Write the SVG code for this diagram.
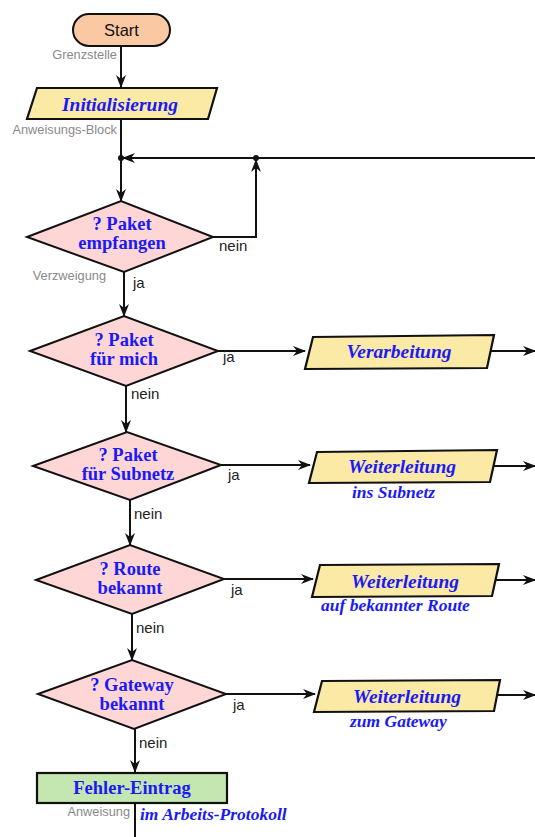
<svg xmlns="http://www.w3.org/2000/svg" width="535" height="837" viewBox="0 0 535 837">
  <style>
    .ln { fill: none; stroke: #111; stroke-width: 2; }
    .arr { fill: none; stroke: #111; stroke-width: 2; marker-end: url(#ah); }
    .dia { fill: #ffd6d6; stroke: #111; stroke-width: 2; }
    .par { fill: #fbe9a6; stroke: #111; stroke-width: 2.2; }
    .q { font-family: "Liberation Serif", "Times New Roman", serif; font-weight: bold; font-size: 18.5px; fill: #1a1af5; text-anchor: middle; }
    .qi { font-family: "Liberation Serif", "Times New Roman", serif; font-weight: bold; font-style: italic; font-size: 19.5px; fill: #1a1af5; text-anchor: middle; }
    .sub { font-family: "Liberation Serif", "Times New Roman", serif; font-weight: bold; font-style: italic; font-size: 17.5px; fill: #1a1af5; }
    .lbl { font-family: "Liberation Sans", Arial, sans-serif; font-size: 15px; fill: #222; }
    .gray { font-family: "Liberation Sans", Arial, sans-serif; font-size: 12.8px; fill: #8a8a8a; }
  </style>
  <defs>
    <marker id="ah" viewBox="0 0 13 10" refX="12" refY="5" markerWidth="13" markerHeight="10" markerUnits="userSpaceOnUse" orient="auto">
      <path d="M0,0 L13,5 L0,10 L4,5 z" fill="#111"/>
    </marker>
  </defs>

  <!-- connectors and their branch labels -->
  <g id="connectors">
    <path class="arr" d="M121,46 V87"/>
    <path class="ln" d="M121,119 V158"/>
    <path class="arr" d="M535,158 H123"/>
    <path class="arr" d="M121,158 V201"/>
    <path class="arr" d="M213,237 H256 V160"/>
    <circle cx="121" cy="158" r="3" fill="#111"/>
    <circle cx="256" cy="158" r="3" fill="#111"/>
    <path class="arr" d="M124,272 V316"/>
    <path class="arr" d="M218,351 H305"/>
    <path class="arr" d="M487,351 H535"/>
    <path class="arr" d="M126,386 V432"/>
    <path class="arr" d="M221,465 H310"/>
    <path class="arr" d="M490,466 H535"/>
    <path class="arr" d="M130,500 V545"/>
    <path class="arr" d="M224,579 H313"/>
    <path class="arr" d="M492,580 H535"/>
    <path class="arr" d="M132,614 V660"/>
    <path class="arr" d="M226,694 H315"/>
    <path class="arr" d="M494,695 H535"/>
    <path class="arr" d="M135,729 V772"/>
    <path class="ln" d="M135,803 V837"/>

    <text class="lbl" x="219" y="251">nein</text>
    <text class="lbl" x="133" y="288">ja</text>
    <text class="lbl" x="223" y="362">ja</text>
    <text class="lbl" x="131" y="399">nein</text>
    <text class="lbl" x="228" y="480">ja</text>
    <text class="lbl" x="134" y="519">nein</text>
    <text class="lbl" x="231" y="595">ja</text>
    <text class="lbl" x="136" y="633">nein</text>
    <text class="lbl" x="233" y="710">ja</text>
    <text class="lbl" x="139" y="748">nein</text>
  </g>

  <g id="start">
    <rect x="73" y="14" width="97" height="32" rx="16" fill="#fbc8a4" stroke="#111" stroke-width="2"/>
    <text x="121.5" y="36" font-family="Liberation Sans, Arial, sans-serif" font-size="16.5" fill="#111" text-anchor="middle">Start</text>
    <text class="gray" x="117" y="59" text-anchor="end">Grenzstelle</text>
  </g>

  <g id="init">
    <polygon class="par" points="37,88 217,88 208,119 27,119"/>
    <text class="qi" x="120" y="111">Initialisierung</text>
    <text class="gray" x="117" y="134" text-anchor="end">Anweisungs-Block</text>
  </g>

  <g id="d-empfangen">
    <polygon class="dia" points="27,237 121,201 213,237 124,272"/>
    <text class="q" x="122" y="230">? Paket</text>
    <text class="q" x="122" y="249">empfangen</text>
    <text class="gray" x="106" y="280" text-anchor="end">Verzweigung</text>
  </g>

  <g id="d-mich">
    <polygon class="dia" points="30,351 124,316 218,351 126,386"/>
    <text class="q" x="124" y="346">? Paket</text>
    <text class="q" x="124" y="365">für mich</text>
  </g>

  <g id="verarbeitung">
    <polygon class="par" points="313,337 494,335 487,368 305,369"/>
    <text class="qi" x="399" y="358">Verarbeitung</text>
  </g>

  <g id="d-subnetz">
    <polygon class="dia" points="33,466 127,432 221,465 130,500"/>
    <text class="q" x="128" y="461">? Paket</text>
    <text class="q" x="128" y="480">für Subnetz</text>
  </g>

  <g id="w-subnetz">
    <polygon class="par" points="317,452 497,450 490,482 309,483"/>
    <text class="qi" x="402" y="473">Weiterleitung</text>
    <text class="sub" x="352" y="498">ins Subnetz</text>
  </g>

  <g id="d-route">
    <polygon class="dia" points="36,580 130,545 224,579 132,614"/>
    <text class="q" x="130" y="575">? Route</text>
    <text class="q" x="130" y="594">bekannt</text>
  </g>

  <g id="w-route">
    <polygon class="par" points="320,565 499,564 492,596 312,597"/>
    <text class="qi" x="405" y="588">Weiterleitung</text>
    <text class="sub" x="321" y="611">auf bekannter Route</text>
  </g>

  <g id="d-gateway">
    <polygon class="dia" points="38,694 132,660 226,694 134,729"/>
    <text class="q" x="132" y="691">? Gateway</text>
    <text class="q" x="132" y="710">bekannt</text>
  </g>

  <g id="w-gateway">
    <polygon class="par" points="322,681 500,680 494,711 314,712"/>
    <text class="qi" x="407" y="703">Weiterleitung</text>
    <text class="sub" x="350" y="727">zum Gateway</text>
  </g>

  <g id="fehler">
    <rect x="37" y="773" width="190" height="30" fill="#c4e6b0" stroke="#111" stroke-width="2.2"/>
    <text class="q" x="132" y="794" font-size="20">Fehler-Eintrag</text>
    <text class="gray" x="130" y="816" text-anchor="end">Anweisung</text>
    <text class="sub" x="140" y="820">im Arbeits-Protokoll</text>
  </g>
</svg>
